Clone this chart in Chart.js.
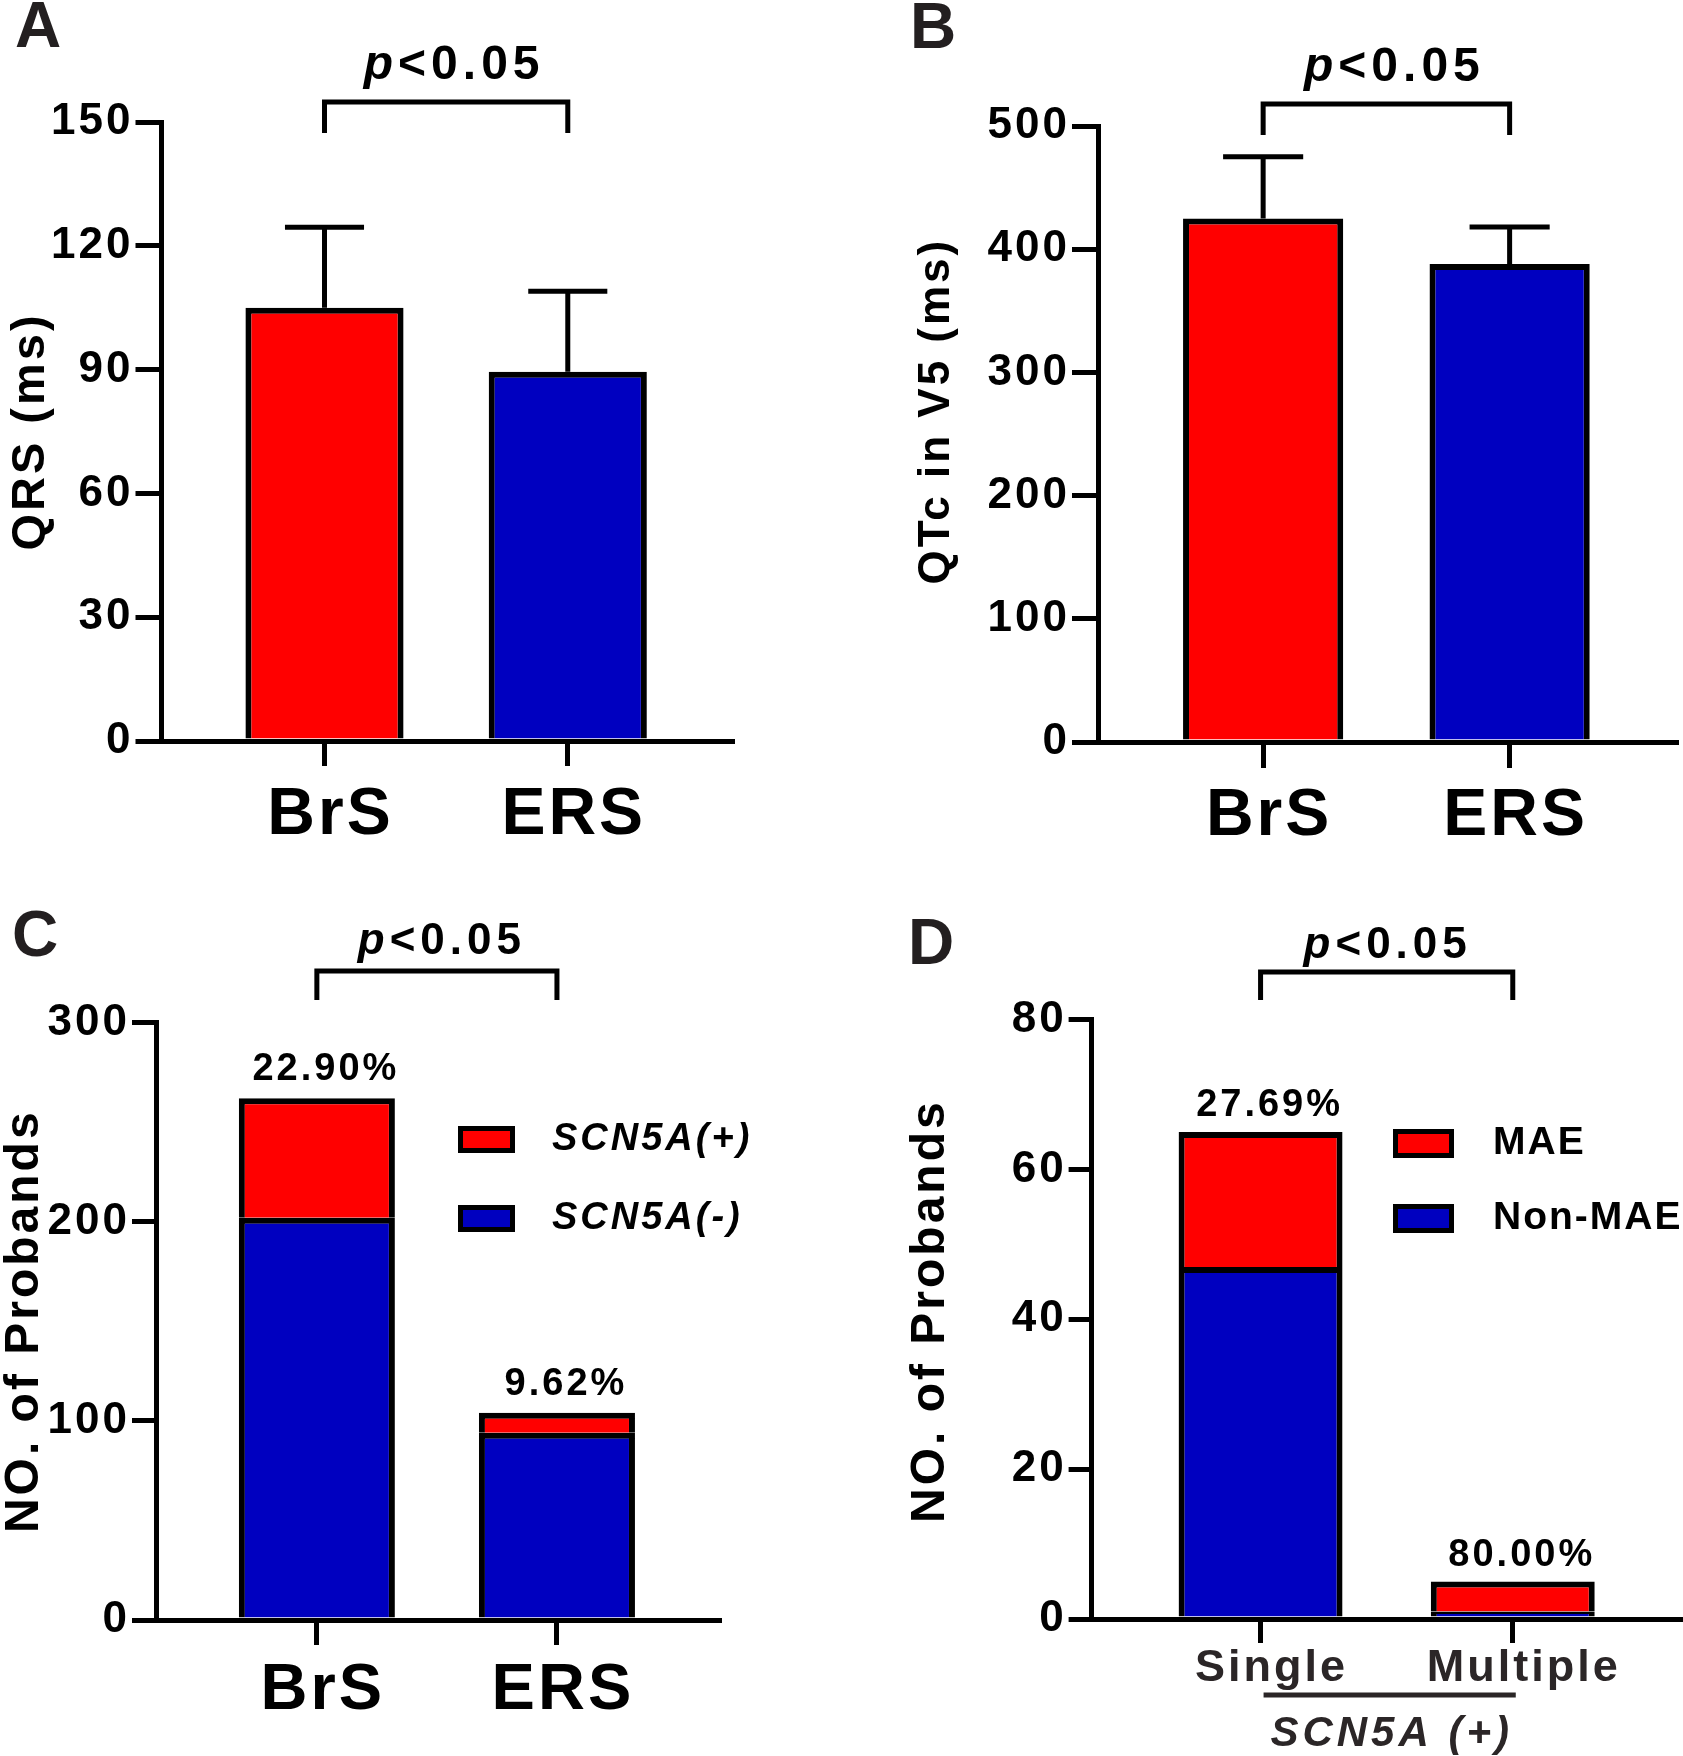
<!DOCTYPE html>
<html lang="en">
<head>
<meta charset="UTF-8">
<title>BrS vs ERS</title>
<script src="https://cdn.jsdelivr.net/npm/chart.js"></script>
<style>
  body { margin: 0; background: #fff; }
  #wrap { position: relative; width: 1683px; height: 1756px; }
  canvas { position: absolute; }
</style>
</head>
<body>
<div id="wrap">
  <canvas id="chartA" style="left:0;top:0" width="840" height="880"></canvas>
  <canvas id="chartB" style="left:840px;top:0" width="843" height="880"></canvas>
  <canvas id="chartC" style="left:0;top:880px" width="840" height="876"></canvas>
  <canvas id="chartD" style="left:840px;top:880px" width="843" height="876"></canvas>
</div>
<script>
// ---- data ----
const groups = ['BrS', 'ERS'];
const qrsMean = [105, 89.5];
const qrsSdTop = [124.5, 109];
const qtcMean = [425, 388];
const qtcSdTop = [475, 418];

const scn5aPos = [60, 10];
const scn5aNeg = [202, 94];

const variantGroups = ['Single', 'Multiple'];
const maeCounts = [18, 4];
const nonMaeCounts = [47, 1];

const RED = '#ff0000';
const BLUE = '#0000c0';
const FONT = "'Liberation Sans', Arial, sans-serif";
const DARK = '#2b2627';

Chart.defaults.font.family = FONT;
Chart.defaults.color = '#000';

function pts(arr) {
  return arr.map((v, i) => ({ x: i + 1, y: v }));
}

// draws error bars, brackets, labels, legends
const decor = {
  id: 'decor',
  beforeDraw(chart) {
    chart.ctx.letterSpacing = '3px';
  },
  afterDatasetsDraw(chart, args, o) {
    if (!o.errors) return;
    const ctx = chart.ctx;
    const ys = chart.scales.y;
    const meta = chart.getDatasetMeta(0);
    ctx.save();
    ctx.strokeStyle = '#000';
    ctx.lineWidth = 5;
    meta.data.forEach((bar, i) => {
      const p = bar.getProps(['x', 'y', 'width'], true);
      const top = ys.getPixelForValue(o.errors[i]);
      const half = p.width / 4;
      ctx.beginPath();
      ctx.moveTo(p.x, p.y);
      ctx.lineTo(p.x, top);
      ctx.moveTo(p.x - half, top);
      ctx.lineTo(p.x + half, top);
      ctx.stroke();
    });
    ctx.restore();
  },
  afterDraw(chart, args, o) {
    const ctx = chart.ctx;
    const xs = chart.scales.x, ys = chart.scales.y;
    const area = chart.chartArea;
    const x1 = xs.getPixelForValue(1), x2 = xs.getPixelForValue(2);
    ctx.save();

    // panel letter
    ctx.letterSpacing = '0px';
    ctx.fillStyle = '#231f20';
    ctx.font = `bold ${o.letter.size}px ${FONT}`;
    ctx.textAlign = 'left';
    ctx.textBaseline = 'alphabetic';
    ctx.fillText(o.letter.text, o.letter.x, o.letter.y);

    // significance bracket
    const by = area.top - o.bracket.rise;
    ctx.strokeStyle = '#000';
    ctx.lineWidth = 5;
    ctx.lineJoin = 'miter';
    ctx.beginPath();
    ctx.moveTo(x1, by + o.bracket.leg);
    ctx.lineTo(x1, by);
    ctx.lineTo(x2, by);
    ctx.lineTo(x2, by + o.bracket.leg);
    ctx.stroke();

    // p<0.05
    ctx.fillStyle = '#000';
    ctx.letterSpacing = '5px';
    const fi = `italic bold ${o.pSize}px ${FONT}`;
    const fn = `bold ${o.pSize}px ${FONT}`;
    ctx.font = fi;
    const w1 = ctx.measureText('p').width;
    ctx.font = fn;
    const w2 = ctx.measureText('<0.05').width;
    const px = (x1 + x2) / 2 + o.pDx - (w1 + w2) / 2;
    const py = by - o.pGap;
    ctx.font = fi;
    ctx.fillText('p', px, py);
    ctx.font = fn;
    ctx.fillText('<0.05', px + w1, py);

    // percentages above stacked bars
    if (o.pct) {
      ctx.letterSpacing = '3px';
      ctx.font = `bold 38px ${FONT}`;
      ctx.textAlign = 'center';
      const top = chart.data.datasets[1].data;
      const bottom = chart.data.datasets[0].data;
      top.forEach((pt, i) => {
        const total = pt.y + bottom[i].y;
        const label = (pt.y / total * 100).toFixed(2) + '%';
        ctx.fillText(label, xs.getPixelForValue(pt.x) + 9, ys.getPixelForValue(total) - o.pct.gap);
      });
    }

    // legend
    if (o.legend) {
      const L = o.legend;
      const items = chart.data.datasets.slice().reverse();
      ctx.letterSpacing = L.spacing;
      ctx.textAlign = 'left';
      ctx.textBaseline = 'middle';
      items.forEach((ds, i) => {
        const t = L.y[i];
        ctx.fillStyle = ds.backgroundColor;
        ctx.fillRect(L.x, t, L.w, L.h);
        ctx.strokeStyle = '#000';
        ctx.lineWidth = 5;
        ctx.strokeRect(L.x + 2.5, t + 2.5, L.w - 5, L.h - 5);
        ctx.fillStyle = '#000';
        ctx.font = `${L.italic ? 'italic ' : ''}bold ${L.size}px ${FONT}`;
        ctx.fillText(ds.label, L.textX, t + L.h / 2);
      });
    }

    // group caption under x labels
    if (o.caption) {
      const c = o.caption;
      ctx.strokeStyle = DARK;
      ctx.lineWidth = 5;
      const uy = area.bottom + c.lineDrop;
      ctx.beginPath();
      ctx.moveTo(x1 + 3, uy);
      ctx.lineTo(x2 + 3, uy);
      ctx.stroke();
      ctx.fillStyle = DARK;
      ctx.letterSpacing = '4px';
      ctx.font = `italic bold ${c.size}px ${FONT}`;
      ctx.textAlign = 'center';
      ctx.textBaseline = 'alphabetic';
      ctx.fillText(c.text, (x1 + x2) / 2 + c.dx, area.bottom + c.textDrop);
    }
    ctx.restore();
  }
};

function panel(id, p) {
  const canvas = document.getElementById(id);
  const W = canvas.width, H = canvas.height;
  new Chart(canvas, {
    type: 'bar',
    data: { datasets: p.datasets },
    options: {
      responsive: false,
      animation: false,
      layout: { padding: { left: p.padLeft, top: p.area.top, right: W - p.area.right, bottom: 0 } },
      datasets: { bar: { barPercentage: 0.65, categoryPercentage: 1, borderColor: '#000', borderWidth: 6 } },
      plugins: {
        legend: { display: false },
        tooltip: { enabled: false },
        decor: p.decor
      },
      scales: {
        x: {
          type: 'linear',
          min: 0.33,
          max: 2.675,
          offset: false,
          stacked: p.stacked,
          afterBuildTicks: s => { s.ticks = p.cats.map((c, i) => ({ value: i + 1 })); },
          afterFit: s => { s.height = H - p.area.bottom; },
          ticks: {
            autoSkip: false, maxRotation: 0, minRotation: 0,
            callback: v => p.cats[v - 1],
            font: { size: p.xFont, weight: 'bold', lineHeight: 1 },
            color: p.xColor || '#000',
            padding: p.xPad,
            labelOffset: p.xOffset
          },
          grid: { offset: false, drawOnChartArea: false, tickLength: p.xTick, lineWidth: 5, color: '#000' },
          border: { display: true, width: 5, color: '#000', z: 1 }
        },
        y: {
          min: 0,
          max: p.yMax,
          stacked: p.stacked,
          afterFit: s => { s.width = p.area.left - p.padLeft; },
          ticks: { stepSize: p.yStep, font: { size: 44, weight: 'bold' }, color: '#000', padding: 2 },
          grid: { drawOnChartArea: false, tickLength: p.yTick, lineWidth: 5, color: '#000' },
          border: { display: true, width: 5, color: '#000' },
          title: {
            display: true, text: p.yTitle, color: '#000', padding: 0,
            font: { size: p.titleSize, weight: 'bold', lineHeight: 1 }
          }
        }
      }
    },
    plugins: [decor]
  });
}

panel('chartA', {
  cats: groups, stacked: false,
  datasets: [{ data: pts(qrsMean), backgroundColor: [RED, BLUE] }],
  area: { left: 161.5, top: 122, right: 732, bottom: 741 },
  padLeft: 8, titleSize: 47, yTitle: 'QRS (ms)',
  yMax: 150, yStep: 30, yTick: 26, xTick: 25,
  xFont: 66, xPad: 17, xOffset: 6,
  decor: {
    errors: qrsSdTop,
    letter: { text: 'A', x: 15, y: 47, size: 64 },
    bracket: { rise: 20, leg: 31 }, pSize: 48, pGap: 23, pDx: 8
  }
});

panel('chartB', {
  cats: groups, stacked: false,
  datasets: [{ data: pts(qtcMean), backgroundColor: [RED, BLUE] }],
  area: { left: 258, top: 126, right: 836, bottom: 742 },
  padLeft: 75, titleSize: 44, yTitle: '   QTc in V5 (ms)',
  yMax: 500, yStep: 100, yTick: 26, xTick: 26,
  xFont: 66, xPad: 16, xOffset: 6,
  decor: {
    errors: qtcSdTop,
    letter: { text: 'B', x: 70, y: 48, size: 64 },
    bracket: { rise: 22, leg: 31 }, pSize: 48, pGap: 23, pDx: 8
  }
});

panel('chartC', {
  cats: groups, stacked: true,
  datasets: [
    { label: 'SCN5A(-)', data: pts(scn5aNeg), backgroundColor: BLUE },
    { label: 'SCN5A(+)', data: pts(scn5aPos), backgroundColor: RED }
  ],
  area: { left: 156, top: 142.5, right: 719, bottom: 740 },
  padLeft: 1, titleSize: 48, yTitle: 'NO. of Probands',
  yMax: 300, yStep: 100, yTick: 24, xTick: 25,
  xFont: 65, xPad: 14, xOffset: 6,
  decor: {
    letter: { text: 'C', x: 12, y: 76, size: 64 },
    bracket: { rise: 51.5, leg: 29 }, pSize: 44, pGap: 17, pDx: 5,
    pct: { gap: 18 },
    legend: { x: 458, y: [246, 325], w: 57, h: 27, textX: 552, size: 38, italic: true, spacing: '3px' }
  }
});

panel('chartD', {
  cats: variantGroups, stacked: true,
  datasets: [
    { label: 'Non-MAE', data: pts(nonMaeCounts), backgroundColor: BLUE },
    { label: 'MAE', data: pts(maeCounts), backgroundColor: RED }
  ],
  area: { left: 251.6, top: 139.7, right: 843, bottom: 739 },
  padLeft: 67, titleSize: 48, yTitle: ' NO. of Probands',
  yMax: 80, yStep: 20, yTick: 23, xTick: 24,
  xFont: 45, xColor: DARK, xPad: 3, xOffset: 11,
  decor: {
    letter: { text: 'D', x: 68, y: 84, size: 64 },
    bracket: { rise: 47.7, leg: 28 }, pSize: 44, pGap: 14, pDx: 1,
    pct: { gap: 16 },
    legend: { x: 553, y: [249, 324], w: 61, h: 29, textX: 653, size: 39, italic: false, spacing: '2px' },
    caption: { text: 'SCN5A (+)', size: 42, lineDrop: 76, textDrop: 127, dx: 5 }
  }
});
</script>
</body>
</html>
